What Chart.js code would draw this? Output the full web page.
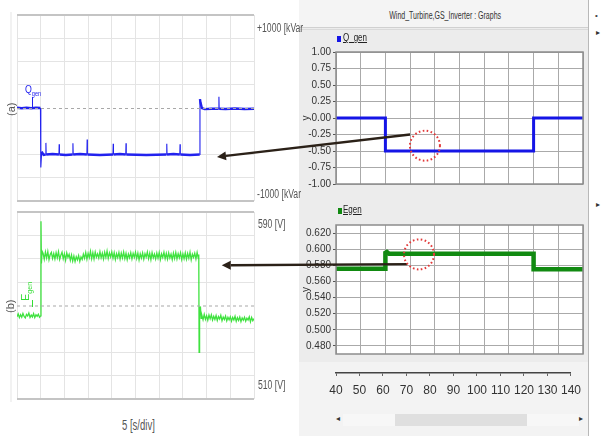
<!DOCTYPE html>
<html><head><meta charset="utf-8">
<script src="https://cdn.jsdelivr.net/npm/chart.js@4.4.0/dist/chart.umd.min.js"></script>
<style>
html,body{margin:0;padding:0;background:#fff;}
body{width:601px;height:436px;position:relative;overflow:hidden;font-family:'Liberation Sans Narrow','Liberation Sans',Arial,sans-serif;}
.abs{position:absolute;}
canvas{position:absolute;}
.lbl{position:absolute;white-space:nowrap;transform-origin:0 0;color:#555;line-height:1;}
</style></head><body>
<!-- right panel frame -->
<div class="abs" style="left:299px;top:0;width:289px;height:436px;background:#ececec;"></div>
<div class="abs" style="left:299px;top:0;width:289px;height:27px;background:#f4f4f4;border-bottom:1px solid #d0d0d0;"></div>
<div class="abs" style="left:299px;top:29px;width:289px;height:1px;background:#dadada;"></div>
<div class="abs" style="left:299px;top:362px;width:289px;height:74px;background:#f3f3f3;"></div>
<div class="abs" style="left:588px;top:0;width:1px;height:436px;background:#b8b8b8;"></div>
<div class="abs" style="left:299px;top:0;width:289px;text-align:center;top:10px;font-size:10px;color:#333;transform:scaleX(0.7);transform-origin:150px 0;white-space:nowrap;">Wind_Turbine,GS_Inverter : Graphs</div>
<div class="abs" style="left:595px;top:11px;font-size:8px;color:#444;">&#8226;</div>
<div class="abs" style="left:596px;top:28px;font-size:8px;color:#333;">&#9656;</div>
<div class="abs" style="left:596px;top:200px;font-size:8px;color:#333;">&#9656;</div>
<!-- scrollbar -->
<div class="abs" style="left:343px;top:414px;width:236px;height:12px;background:#f7f7f7;"></div>
<div class="abs" style="left:395px;top:414px;width:132px;height:12px;background:#dfdfdf;"></div>
<div class="abs" style="left:336px;top:414px;font-size:8px;color:#333;">&#9666;</div>
<div class="abs" style="left:579px;top:414px;font-size:8px;color:#333;">&#9656;</div>
<!-- left faint edge -->
<div class="abs" style="left:10px;top:12px;width:2px;height:390px;background:#f2f2f2;"></div>

<canvas id="cq" width="300" height="205" style="left:0px;top:0px"></canvas>
<canvas id="ce" width="300" height="200" style="left:0px;top:205px"></canvas>
<canvas id="rq" width="288" height="162" style="left:300px;top:30px"></canvas>
<canvas id="re" width="288" height="162" style="left:300px;top:200px"></canvas>
<canvas id="rx" width="288" height="38" style="left:300px;top:365px"></canvas>

<!-- left labels -->
<div class="lbl" style="left:257px;top:22px;font-size:12px;transform:scaleX(0.72);">+1000 [kVar</div>
<div class="lbl" style="left:257px;top:188px;font-size:12px;transform:scaleX(0.72);">-1000 [kVar</div>
<div class="lbl" style="left:258px;top:218px;font-size:12px;transform:scaleX(0.72);">590 [V]</div>
<div class="lbl" style="left:258px;top:379px;font-size:12px;transform:scaleX(0.72);">510 [V]</div>
<div class="lbl" style="left:122px;top:418px;font-size:14px;transform:scaleX(0.68);">5 [s/div]</div>
<div class="lbl" style="left:6px;top:116px;font-size:11px;transform:rotate(-90deg);">(a)</div>
<div class="lbl" style="left:5px;top:313px;font-size:11px;transform:rotate(-90deg);">(b)</div>
<div class="lbl" style="left:25px;top:84px;font-size:11px;color:#2222ee;transform:scaleX(0.8);">Q<sub style="font-size:7px">gen</sub></div>
<div class="abs" style="left:32px;top:97px;width:1px;height:11px;background:#2222ee;"></div>
<div class="lbl" style="left:20px;top:301px;font-size:11px;color:#33dd33;transform:rotate(-90deg);">E<sub style="font-size:7px">gen</sub></div>
<div class="abs" style="left:32px;top:300px;width:1px;height:7px;background:#33dd33;"></div>
<!-- right legends -->
<div class="abs" style="left:337px;top:36px;width:4px;height:6px;background:#1515e6;"></div>
<div class="lbl" style="left:343px;top:33px;font-size:10px;color:#222;transform:scaleX(0.8);text-decoration:underline;">Q_gen</div>
<div class="abs" style="left:338px;top:208px;width:4px;height:6px;background:#118a11;"></div>
<div class="lbl" style="left:343px;top:205px;font-size:10px;color:#222;transform:scaleX(0.8);text-decoration:underline;">Egen</div>

<canvas id="ov" width="601" height="436" style="left:0;top:0;pointer-events:none;"></canvas>

<script>
// ---------------- DATA ----------------
// Left oscilloscope panel (a): reactive power Q_gen [kVar], time in s (5 s/div)
const lxTicks = [0,5,10,15,20,25,30,35,40,45,50];
const qLevels = [-1000,-750,-500,-250,0,250,500,750,1000];
const qTime  = [0,1,2,3,4,4.95,5.0,5.05,5.2,5.6,6.05,6.1,6.15,7.5,8.85,8.9,8.95,10.3,11.75,11.8,11.85,13.3,14.75,14.8,14.85,17.5,20.25,20.3,20.35,21.7,22.95,23.0,23.05,27.3,31.55,31.6,31.65,33.0,34.35,34.4,34.45,36.5,38.55,38.6,38.7,39.0,39.6,41,42.55,42.6,42.65,44,46,48,50];
const qValue = [2,-3,3,-2,2,0,-200,-640,-470,-505,-500,-375,-500,-495,-500,-390,-500,-505,-500,-380,-500,-495,-500,-340,-500,-505,-500,-385,-500,-495,-500,-380,-500,-505,-500,-385,-500,-495,-500,-390,-500,-505,-500,95,60,0,-12,-8,-8,120,-8,-10,-6,-10,-8];

// Left oscilloscope panel (b): voltage E_gen [V]
const eLevels = [510,520,530,540,550,560,570,580,590];
const eSampleStep = 0.25;
const ePreStart = 0;
const ePreValues = [545.2,546.4,544.8,546.1,545.0,546.6,545.3,544.7,546.2,545.5,546.8,544.9,545.9,545.1,546.5,544.8,546.0,545.4,546.3,545.0];
const eRiseTime  = [5.0,5.06,5.15,5.3];
const eRiseValue = [545.6,586,568,573.2];
const ePlateauStart = 5.5;
const ePlateauValues = [
572.4,569.8,572.9,570.3,573.1,569.6,571.8,572.7,570.1,572.2,569.9,572.6,
570.4,573.0,569.7,571.5,572.8,570.0,572.1,569.4,572.5,570.6,571.9,569.3,
571.6,569.0,571.2,568.8,570.9,569.5,571.4,568.9,570.8,569.7,572.0,570.2,
572.7,569.8,572.3,570.5,573.2,570.0,572.6,569.9,572.9,570.7,572.1,570.3,
573.0,570.4,572.4,569.9,572.8,570.6,573.3,570.1,572.5,570.8,572.9,570.2,
572.6,569.7,572.2,570.5,572.7,569.8,572.4,570.3,572.9,570.0,572.3,569.6,
572.0,570.4,572.6,569.9,572.3,570.6,572.8,570.1,572.4,569.5,572.1,570.3,
572.5,569.8,572.2,570.7,572.9,570.0,572.3,569.6,572.6,570.4,572.0,569.9,
572.4,570.2,572.7,569.7,572.1,570.5,572.8,570.0,572.3,569.8,572.5,570.3,
572.0,569.6,572.4,570.1,572.7,569.9,572.2,570.4,572.6,569.7,572.1,570.0,
572.5,569.8,572.3,570.2,572.8,569.5,572.0,570.6,572.4,569.9,572.7,570.1];
const eFallTime  = [38.35,38.42,38.52,38.7,38.85];
const eFallValue = [571.8,530,547,549.6,544.5];
const ePostStart = 39.0;
const ePostValues = [
545.8,543.9,546.2,544.1,545.6,543.7,545.9,544.3,546.0,543.8,545.4,544.0,
545.7,543.6,545.3,544.2,545.8,543.5,545.1,544.0,545.5,543.4,545.0,543.9,
545.2,543.3,544.9,543.8,545.4,543.2,544.8,543.6,545.1,543.1,544.7,543.7,
545.0,543.3,544.6,543.8,545.2,543.0,544.9,543.5,544.4];

// Right simulation panel
const rxTicks = [40,50,60,70,80,90,100,110,120,130,140];
const rqTicks = [-1.00,-0.75,-0.50,-0.25,0.00,0.25,0.50,0.75,1.00];
const rqTime  = [40,60,60,120,120,140];
const rqValue = [0,0,-0.5,-0.5,0,0];
const reTicks = [0.48,0.50,0.52,0.54,0.56,0.58,0.60,0.62];
const reTime  = [40,60,60,60.6,61.5,120,120,140];
const reValue = [0.5758,0.5758,0.5955,0.5965,0.5944,0.5944,0.5752,0.5752];

// Annotation anchors (in data units of the respective charts)
const arrowFromQ = [70,-0.25], arrowToQ = [42.2,-526];
const arrowFromE = [68.8,0.5815], arrowToE = [43.2,567.2];
const circleQ = [76,-0.42], circleE = [73.6,0.5935];

// ---------------- BUILD ----------------
Chart.defaults.animation = false;
Chart.defaults.font.family = "'Liberation Sans Narrow','Liberation Sans',Arial,sans-serif";
const zip = (xs, ys) => xs.map((x,i)=>({x:x,y:ys[i]}));
const sampled = (start, vals) => vals.map((v,i)=>({x:start + i*eSampleStep, y:v}));

const qPoints = zip(qTime, qValue);
const ePoints = [].concat(sampled(ePreStart, ePreValues), zip(eRiseTime, eRiseValue),
  sampled(ePlateauStart, ePlateauValues), zip(eFallTime, eFallValue), sampled(ePostStart, ePostValues));

function setTicks(arr){ return s => { s.ticks = arr.map(v=>({value:v})); }; }

const bgPlugin = {
  id:'bgfill',
  beforeDraw(chart, args, opts){
    const a = chart.chartArea, c = chart.ctx;
    c.save(); c.fillStyle = opts.color || '#fff';
    c.fillRect(a.left, a.top, a.right-a.left, a.bottom-a.top); c.restore();
  },
  afterDatasetsDraw(chart, args, opts){
    const a = chart.chartArea, c = chart.ctx;
    if (opts.center !== undefined) {
      const y = chart.scales.y.getPixelForValue(opts.center);
      c.save(); c.strokeStyle = '#a8a8a8'; c.lineWidth = 1; c.setLineDash([3,3]);
      c.beginPath(); c.moveTo(a.left, y+0.5); c.lineTo(a.right, y+0.5); c.stroke(); c.restore();
    }
    if (opts.frame) {
      c.save(); c.strokeStyle = opts.frame; c.lineWidth = 1.5;
      c.strokeRect(a.left, a.top, a.right-a.left, a.bottom-a.top); c.restore();
    }
  }
};

// thin segments for fast transients (steps and spikes), thick for the steady trace
function segWidth(thick){
  return ctx => {
    const dx = Math.abs(ctx.p1.parsed.x - ctx.p0.parsed.x);
    const dy = Math.abs(ctx.p1.parsed.y - ctx.p0.parsed.y);
    return (dx < 0.2 && dy > 50) ? 1.1 : thick;
  };
}

function leftChart(id, points, color, width, levels, center, pad, seg){
  const lo = levels[0], hi = levels[levels.length-1];
  return new Chart(document.getElementById(id), {
    type:'line',
    data:{datasets:[{data:points, borderColor:color, borderWidth:width, pointRadius:0, tension:0, fill:false,
      segment: seg ? {borderWidth:segWidth(width)} : {}}]},
    options:{
      responsive:false, maintainAspectRatio:false,
      layout:{padding:pad},
      plugins:{legend:{display:false}, tooltip:{enabled:false}, bgfill:{color:'#fff', center:center}},
      scales:{
        x:{type:'linear', min:lxTicks[0], max:lxTicks[lxTicks.length-1], afterBuildTicks:setTicks(lxTicks),
           afterFit:s=>{s.height=0;}, ticks:{display:false}, border:{display:false},
           grid:{drawTicks:false, color:'#e4e4e4', lineWidth:1}},
        y:{type:'linear', min:lo, max:hi, afterBuildTicks:setTicks(levels),
           afterFit:s=>{s.width=0;}, ticks:{display:false}, border:{display:false},
           grid:{drawTicks:false,
             color:c=> (c.tick && (c.tick.value===lo||c.tick.value===hi)) ? '#c4c4c4' : (c.tick && c.tick.value===center ? 'rgba(0,0,0,0)' : '#e4e4e4'),
             lineWidth:c=> (c.tick && (c.tick.value===lo||c.tick.value===hi)) ? 2 : 1}}
      }
    },
    plugins:[bgPlugin]
  });
}

function rightChart(id, points, color, width, yTicks, yMin, yMax, fmt, pad){
  return new Chart(document.getElementById(id), {
    type:'line',
    data:{datasets:[{data:points, borderColor:color, borderWidth:width, pointRadius:0, tension:0, fill:false, borderJoinStyle:'miter', borderCapStyle:'butt'}]},
    options:{
      responsive:false, maintainAspectRatio:false,
      layout:{padding:pad},
      plugins:{legend:{display:false}, tooltip:{enabled:false}, bgfill:{color:'#fff', frame:'#8c8c8c'}},
      scales:{
        x:{type:'linear', min:rxTicks[0], max:rxTicks[rxTicks.length-1], afterBuildTicks:setTicks(rxTicks),
           afterFit:s=>{s.height=0;}, ticks:{display:false}, border:{display:false},
           grid:{drawTicks:false, color:'#aaaaaa', lineWidth:1}},
        y:{type:'linear', min:yMin, max:yMax, afterBuildTicks:setTicks(yTicks),
           afterFit:s=>{s.width=36;},
           ticks:{callback:v=>fmt(v), font:{size:10}, color:'#333', padding:2},
           title:{display:true, text:'y', font:{size:10}, color:'#333', padding:{top:0,bottom:0}},
           border:{display:false},
           grid:{drawTicks:true, tickLength:3, tickColor:'#555', color:'#aaaaaa', lineWidth:1}}
      }
    },
    plugins:[bgPlugin]
  });
}

const cq = leftChart('cq', qPoints, '#2222ee', 2.4, qLevels, 0, {left:17,right:46,top:15,bottom:4}, true);
const ce = leftChart('ce', ePoints, '#3fe23f', 1.3, eLevels, 550, {left:17,right:46,top:7,bottom:6}, false);
const rq = rightChart('rq', zip(rqTime, rqValue), '#1515e6', 3, rqTicks, -1, 1, v=>v.toFixed(2), {left:0,right:5,top:22,bottom:7});
const re = rightChart('re', zip(reTime, reValue), '#118a11', 4.5, reTicks, 0.47, 0.63, v=>v.toFixed(3), {left:0,right:5,top:25,bottom:5});

const rx = new Chart(document.getElementById('rx'), {
  type:'line',
  data:{datasets:[]},
  options:{
    responsive:false, maintainAspectRatio:false,
    layout:{padding:{left:36,right:5,top:0,bottom:0}},
    plugins:{legend:{display:false}, tooltip:{enabled:false}},
    scales:{
      x:{type:'linear', min:rxTicks[0], max:rxTicks[rxTicks.length-1], afterBuildTicks:setTicks(rxTicks),
         afterFit:s=>{s.height=30;},
         ticks:{font:{size:12}, color:'#333', padding:7, maxRotation:0},
         border:{display:true, color:'#444', width:1.5},
         grid:{drawOnChartArea:false, drawTicks:true, tickLength:3, tickColor:'#666'}},
      y:{display:false, min:0, max:1}
    }
  }
});

// ---------------- OVERLAY (arrows + dotted circles) ----------------
function pagePt(chart, p){
  const el = chart.canvas;
  return [el.offsetLeft + chart.scales.x.getPixelForValue(p[0]), el.offsetTop + chart.scales.y.getPixelForValue(p[1])];
}
const ov = document.getElementById('ov').getContext('2d');
function arrow(a, b){
  const [x1,y1] = a, [x2,y2] = b;
  const ang = Math.atan2(y2-y1, x2-x1), L = 9, W = 4.5;
  const bx = x2 - L*Math.cos(ang), by = y2 - L*Math.sin(ang);
  ov.strokeStyle = ov.fillStyle = '#2b2118'; ov.lineWidth = 2.3;
  ov.beginPath(); ov.moveTo(x1,y1); ov.lineTo(bx,by); ov.stroke();
  ov.beginPath(); ov.moveTo(x2,y2);
  ov.lineTo(bx + W*Math.sin(ang), by - W*Math.cos(ang));
  ov.lineTo(bx - W*Math.sin(ang), by + W*Math.cos(ang));
  ov.closePath(); ov.fill();
}
function circle(c, r){
  ov.save(); ov.strokeStyle = '#e23a3a'; ov.lineWidth = 2; ov.setLineDash([1.6,2.4]); ov.lineCap = 'butt';
  ov.beginPath(); ov.arc(c[0], c[1], r, 0, Math.PI*2); ov.stroke(); ov.restore();
}
arrow(pagePt(rq, arrowFromQ), pagePt(cq, arrowToQ));
arrow(pagePt(re, arrowFromE), pagePt(ce, arrowToE));
circle(pagePt(rq, circleQ), 15);
circle(pagePt(re, circleE), 15);
</script>
</body></html>
